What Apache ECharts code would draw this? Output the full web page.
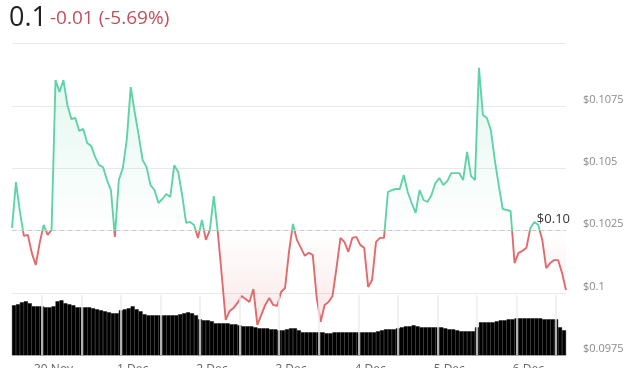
<!DOCTYPE html>
<html><head><meta charset="utf-8">
<script src="https://cdn.jsdelivr.net/npm/echarts@6/dist/echarts.min.js"></script>
<style>html,body{margin:0;padding:0;background:#fff}#c{width:640px;height:368px}</style>
</head><body><div id="c"></div>
<script>
// ---- data ----
const priceNow = '0.1';
const changeText = '-0.01 (-5.69%)';
const baseLabel = '$0.10';
const basePrice = 0.1025;
const yMin = 0.0975, yMax = 0.11, yStep = 0.0025;
const xLabels = ['30 Nov', '1 Dec', '2 Dec', '3 Dec', '4 Dec', '5 Dec', '6 Dec'];
const prices = [
  0.10261,0.10445,0.10325,0.10229,0.10233,0.10161,0.10112,0.10201,0.10273,0.10233,
  0.10253,0.10854,0.10806,0.10854,0.10754,0.10698,0.10702,0.10650,0.10658,0.10602,
  0.10590,0.10546,0.10513,0.10505,0.10453,0.10413,0.10225,0.10453,0.10501,0.10614,
  0.10826,0.10726,0.10634,0.10534,0.10505,0.10433,0.10413,0.10361,0.10377,0.10397,
  0.10385,0.10513,0.10485,0.10393,0.10281,0.10285,0.10273,0.10221,0.10293,0.10213,
  0.10253,0.10389,0.10245,0.10072,0.09892,0.09928,0.09940,0.09960,0.09988,0.09976,
  0.09964,0.10016,0.09872,0.09912,0.09952,0.09980,0.09952,0.09948,0.10004,0.10020,
  0.10165,0.10277,0.10213,0.10181,0.10149,0.10161,0.10153,0.09980,0.09884,0.09952,
  0.09964,0.09988,0.10100,0.10221,0.10205,0.10165,0.10221,0.10225,0.10193,0.10181,
  0.10024,0.10052,0.10205,0.10221,0.10221,0.10405,0.10413,0.10417,0.10417,0.10473,
  0.10405,0.10361,0.10321,0.10413,0.10373,0.10365,0.10393,0.10441,0.10461,0.10433,
  0.10449,0.10481,0.10481,0.10481,0.10453,0.10566,0.10469,0.10453,0.10903,0.10714,
  0.10702,0.10654,0.10534,0.10433,0.10337,0.10333,0.10329,0.10120,0.10161,0.10169,
  0.10181,0.10261,0.10285,0.10273,0.10213,0.10100,0.10120,0.10132,0.10132,0.10080,
  0.10012
];
const volumes = [
  50,51,53,54,52,49,49,49,48,48,
  49,54,55,52,51,50,48,48,48,48,
  47,46,45,44,43,42,42,45,46,47,
  49,46,44,41,40,40,40,40,40,40,
  40,40,41,42,43,42,40,36,35,35,
  34,32,32,32,32,31,31,30,29,29,
  29,28,27,27,27,26,26,25,25,26,
  27,27,25,23,23,23,23,23,23,22,
  22,23,23,23,23,23,23,23,23,23,
  23,23,24,25,26,26,26,27,28,29,
  29,30,29,28,28,28,28,28,28,27,
  26,26,25,24,24,24,24,28,33,33,
  33,33,34,35,35,36,36,37,37,37,
  37,37,37,37,36,36,36,36,28,25
];
const barsPerLabel = 20;     // volume bars per day label
const barsPerSegment = 10;   // volume bars per half-day block

// ---- chart ----
const green = '#5fd3a6', red = '#e06a6c';
const gridTop = 43.7, gridBottom = 12.7, gridLeft = 12, gridRight = 74;
const H = 368;
const chart = echarts.init(document.getElementById('c'), null, {renderer: 'canvas'});
const priceCats = prices.map((_, i) => String(i));
const volCats = volumes.map((_, i) => String(i));
const baseArr = prices.map(() => basePrice);
const diffArr = prices.map(p => +(p - basePrice).toFixed(6));
const sepData = [];
for (let j = 7; j < volumes.length; j += barsPerSegment) {
  sepData.push([{coord: [j, 0]}, {coord: [j, 60]}]);
}
const baseOffset = (yMax - basePrice) / (yMax - yMin);
const font = '"Open Sans", sans-serif';

chart.setOption({
  animation: false,
  backgroundColor: '#fff',
  graphic: [
    {type: 'text', left: 9, top: 5, style: {text: priceNow, font: '27px ' + font, fill: '#222'}},
    {type: 'text', left: 50, top: 9, style: {text: changeText, font: '19px ' + font, fill: '#c24f5c'}}
  ],
  grid: {top: gridTop, bottom: gridBottom, left: gridLeft, right: gridRight, containLabel: false,
         outerBoundsMode: 'none'},
  xAxis: [
    {type: 'category', data: priceCats, boundaryGap: false, show: false, position: 'top'},
    {type: 'category', data: volCats, boundaryGap: true, gridIndex: 0, position: 'bottom',
     axisLine: {show: false}, axisTick: {show: false}, splitLine: {show: false},
     axisLabel: {interval: 0, margin: 8, color: '#666', fontSize: 12, fontFamily: font,
       formatter: (v, i) => (i % barsPerLabel === 10 ? xLabels[(i - 10) / barsPerLabel] : '')}}
  ],
  yAxis: [
    {type: 'value', min: yMin, max: yMax, interval: yStep, position: 'right',
     axisLine: {show: false}, axisTick: {show: false},
     splitLine: {lineStyle: {color: '#e9e9e9', width: 1}},
     axisLabel: {margin: 17, color: '#8a8a8a', fontSize: 11, fontFamily: font, verticalAlign: 'bottom',
       padding: [0, 0, 1, 0],
       formatter: v => (Math.abs(v - yMax) < 1e-9 ? '' : '$' + parseFloat(v.toFixed(4)))}},
    {type: 'value', min: 0, max: 311.6, show: false, splitLine: {show: false}}
  ],
  visualMap: {
    show: false, type: 'piecewise', seriesIndex: 3, dimension: 1,
    pieces: [{gte: basePrice, lte: 1, color: green}, {gte: 0, lt: basePrice, color: red}]
  },
  series: [
    {type: 'bar', xAxisIndex: 1, yAxisIndex: 1, data: volumes, barCategoryGap: '0%', z: 1,
     itemStyle: {color: '#000', borderColor: '#000', borderWidth: 0.4}, silent: true,
     markLine: {silent: true, symbol: 'none', label: {show: false},
       lineStyle: {color: '#ececec', width: 1.5, type: 'solid'}, data: sepData}},
    {type: 'line', xAxisIndex: 0, yAxisIndex: 0, data: baseArr, stack: 'p', stackStrategy: 'all',
     showSymbol: false, silent: true, lineStyle: {opacity: 0}, z: 2},
    {type: 'line', xAxisIndex: 0, yAxisIndex: 0, data: diffArr, stack: 'p', stackStrategy: 'all',
     showSymbol: false, silent: true, lineStyle: {opacity: 0}, z: 2,
     areaStyle: {color: new echarts.graphic.LinearGradient(0, gridTop, 0, H - gridBottom, [
       {offset: 0, color: 'rgba(95,211,166,0.30)'},
       {offset: baseOffset, color: 'rgba(95,211,166,0.0)'},
       {offset: baseOffset, color: 'rgba(224,106,108,0.0)'},
       {offset: 1, color: 'rgba(224,106,108,0.30)'}
     ], true)}},
    {type: 'line', xAxisIndex: 0, yAxisIndex: 0, data: prices, showSymbol: false, z: 3,
     lineStyle: {width: 1.9},
     markLine: {silent: true, symbol: 'none', precision: 4,
       lineStyle: {color: '#c9c9c9', type: [4, 4], width: 1},
       label: {formatter: baseLabel, position: 'insideEndTop', color: '#333', fontSize: 13, fontFamily: font,
               offset: [9, 0]},
       data: [{yAxis: basePrice}]}}
  ]
});
</script>
</body></html>
